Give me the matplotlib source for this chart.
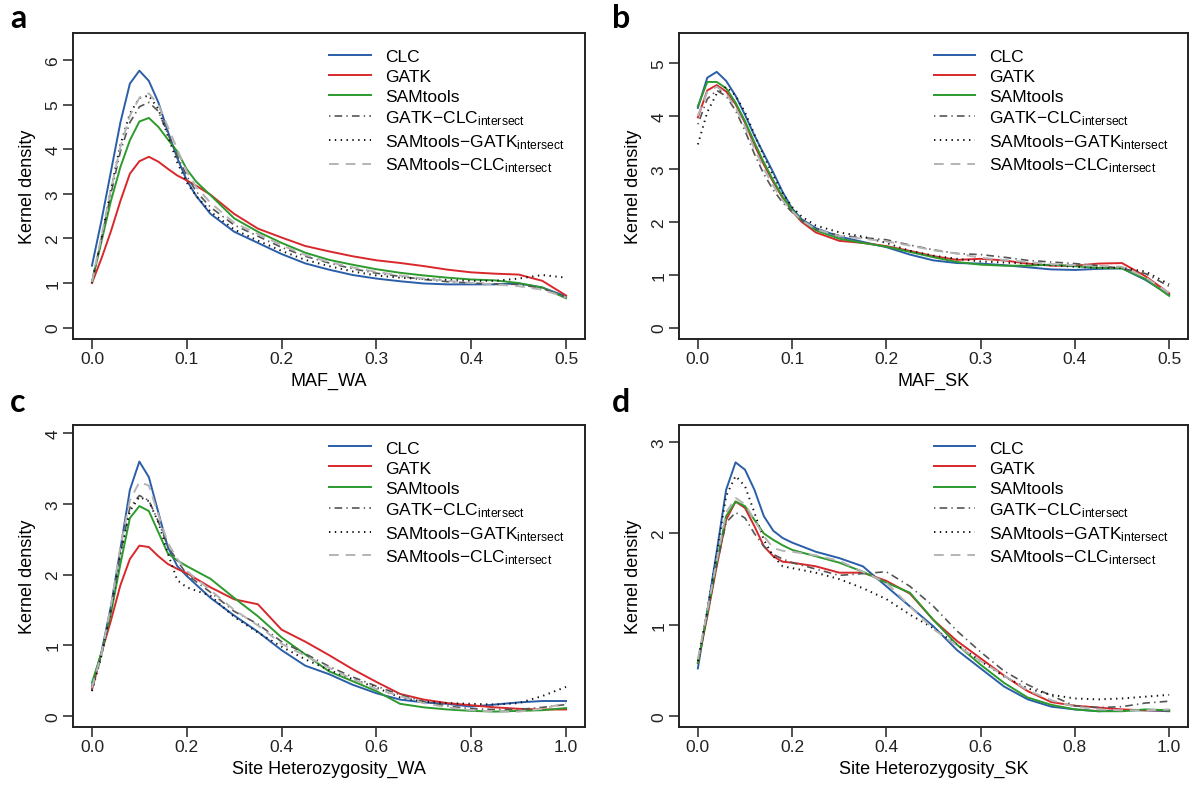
import matplotlib
matplotlib.use('Agg')
import matplotlib.pyplot as plt

plt.rcParams['font.family'] = ['Liberation Sans', 'DejaVu Sans']
plt.rcParams['mathtext.fontset'] = 'custom'
plt.rcParams['mathtext.rm'] = 'Liberation Sans'
plt.rcParams['lines.scale_dashes'] = False

# ---------------- data ----------------
series_names = ['CLC', 'GATK', 'SAMtools', 'GATK-CLC', 'SAMtools-GATK', 'SAMtools-CLC']
legend_labels = ['CLC', 'GATK', 'SAMtools',
                 r'$\mathregular{GATK{-}CLC_{intersect}}$',
                 r'$\mathregular{SAMtools{-}GATK_{intersect}}$',
                 r'$\mathregular{SAMtools{-}CLC_{intersect}}$']

# Panel a : MAF_WA
x_a = [0, 0.01, 0.02, 0.03, 0.04, 0.05, 0.06, 0.07, 0.08, 0.09, 0.10, 0.11, 0.125, 0.15,
       0.175, 0.2, 0.225, 0.25, 0.275, 0.3, 0.325, 0.35, 0.375, 0.4, 0.425, 0.45, 0.475, 0.5]
a_clc = [1.39, 2.4, 3.5, 4.6, 5.47, 5.76, 5.53, 5.05, 4.4, 3.8, 3.3, 2.95, 2.55, 2.15,
         1.9, 1.65, 1.44, 1.30, 1.18, 1.10, 1.04, 0.99, 0.97, 0.97, 0.97, 0.99, 0.90, 0.70]
a_gatk = [1.0, 1.55, 2.16, 2.84, 3.45, 3.73, 3.83, 3.72, 3.56, 3.41, 3.3, 3.18, 2.98, 2.55,
          2.22, 2.02, 1.83, 1.71, 1.60, 1.51, 1.45, 1.38, 1.30, 1.24, 1.21, 1.19, 1.05, 0.72]
a_sam = [1.02, 1.93, 2.84, 3.6, 4.2, 4.62, 4.70, 4.5, 4.22, 3.95, 3.55, 3.27, 2.97, 2.45,
         2.15, 1.90, 1.68, 1.52, 1.41, 1.31, 1.23, 1.17, 1.12, 1.08, 1.06, 1.0, 0.9, 0.66]
a_gc = [1.05, 2.0, 3.0, 3.95, 4.6, 4.95, 5.05, 4.85, 4.35, 3.85, 3.4, 3.05, 2.7, 2.3,
        2.05, 1.8, 1.6, 1.45, 1.32, 1.22, 1.15, 1.08, 1.03, 1.0, 0.98, 0.97, 0.88, 0.68]
a_sg = [1.0, 2.0, 3.1, 4.1, 4.8, 5.15, 5.2, 4.9, 4.3, 3.7, 3.25, 2.95, 2.6, 2.2,
        1.95, 1.72, 1.52, 1.38, 1.26, 1.17, 1.12, 1.09, 1.07, 1.05, 1.05, 1.1, 1.18, 1.12]
a_sc = [1.02, 2.05, 3.1, 4.05, 4.75, 5.15, 5.25, 5.0, 4.5, 4.0, 3.5, 3.15, 2.8, 2.35,
        2.1, 1.85, 1.63, 1.47, 1.35, 1.25, 1.17, 1.10, 1.05, 1.0, 0.97, 0.93, 0.85, 0.68]

# Panel b : MAF_SK
x_b = [0, 0.01, 0.02, 0.03, 0.04, 0.05, 0.06, 0.07, 0.08, 0.09, 0.10, 0.11, 0.125, 0.15,
       0.175, 0.2, 0.225, 0.25, 0.275, 0.3, 0.325, 0.35, 0.375, 0.4, 0.425, 0.45, 0.475, 0.5]
b_clc = [4.15, 4.72, 4.83, 4.66, 4.38, 4.02, 3.63, 3.28, 2.93, 2.56, 2.25, 2.05, 1.88, 1.72,
         1.62, 1.52, 1.38, 1.27, 1.22, 1.21, 1.18, 1.14, 1.10, 1.09, 1.11, 1.12, 0.90, 0.62]
b_gatk = [3.97, 4.48, 4.58, 4.46, 4.22, 3.87, 3.45, 3.08, 2.75, 2.45, 2.2, 2.0, 1.80, 1.64,
          1.60, 1.54, 1.45, 1.35, 1.28, 1.30, 1.27, 1.21, 1.17, 1.17, 1.21, 1.22, 0.97, 0.65]
b_sam = [4.18, 4.64, 4.64, 4.52, 4.25, 3.9, 3.5, 3.12, 2.78, 2.47, 2.22, 2.03, 1.84, 1.68,
         1.60, 1.53, 1.43, 1.33, 1.24, 1.19, 1.17, 1.17, 1.19, 1.16, 1.13, 1.12, 0.92, 0.60]
b_gc = [3.84, 4.32, 4.48, 4.37, 4.1, 3.72, 3.28, 2.9, 2.6, 2.36, 2.18, 2.03, 1.86, 1.74,
        1.70, 1.66, 1.56, 1.47, 1.40, 1.38, 1.33, 1.27, 1.24, 1.21, 1.17, 1.12, 1.02, 0.78]
b_sg = [3.46, 4.07, 4.42, 4.55, 4.38, 4.07, 3.65, 3.24, 2.87, 2.54, 2.28, 2.1, 1.93, 1.80,
        1.72, 1.60, 1.45, 1.36, 1.30, 1.25, 1.23, 1.21, 1.18, 1.15, 1.13, 1.13, 1.06, 0.82]
b_sc = [4.0, 4.45, 4.55, 4.42, 4.15, 3.8, 3.38, 3.0, 2.68, 2.4, 2.2, 2.03, 1.86, 1.73,
        1.68, 1.63, 1.55, 1.46, 1.40, 1.32, 1.28, 1.24, 1.20, 1.18, 1.17, 1.15, 0.95, 0.65]

# Panel c : Site Heterozygosity_WA
x_c = [0, 0.02, 0.04, 0.06, 0.08, 0.10, 0.12, 0.14, 0.16, 0.18, 0.2, 0.25, 0.3, 0.35,
       0.4, 0.45, 0.5, 0.55, 0.6, 0.65, 0.7, 0.75, 0.8, 0.85, 0.9, 0.95, 1.0]
c_clc = [0.42, 0.9, 1.55, 2.36, 3.2, 3.6, 3.38, 2.88, 2.39, 2.12, 1.98, 1.67, 1.42, 1.19,
         0.93, 0.71, 0.59, 0.44, 0.32, 0.23, 0.19, 0.17, 0.13, 0.16, 0.19, 0.21, 0.21]
c_gatk = [0.37, 0.89, 1.35, 1.85, 2.22, 2.41, 2.39, 2.26, 2.15, 2.08, 2.02, 1.82, 1.65, 1.58,
          1.22, 1.05, 0.86, 0.66, 0.48, 0.31, 0.23, 0.18, 0.15, 0.12, 0.10, 0.09, 0.09]
c_sam = [0.47, 0.89, 1.45, 2.15, 2.8, 2.97, 2.9, 2.6, 2.3, 2.2, 2.12, 1.94, 1.67, 1.41,
         1.11, 0.87, 0.63, 0.49, 0.35, 0.17, 0.12, 0.09, 0.07, 0.06, 0.07, 0.08, 0.11]
c_gc = [0.38, 0.85, 1.5, 2.3, 2.95, 3.12, 3.05, 2.75, 2.4, 2.2, 2.0, 1.75, 1.48, 1.3,
        1.05, 0.88, 0.70, 0.55, 0.42, 0.30, 0.20, 0.14, 0.10, 0.09, 0.09, 0.12, 0.16]
c_sg = [0.35, 0.85, 1.5, 2.3, 2.9, 3.1, 3.04, 2.74, 2.3, 1.92, 1.82, 1.70, 1.40, 1.18,
        0.98, 0.80, 0.65, 0.52, 0.40, 0.26, 0.20, 0.18, 0.17, 0.16, 0.18, 0.28, 0.41]
c_sc = [0.40, 0.88, 1.55, 2.4, 3.05, 3.31, 3.26, 2.85, 2.45, 2.22, 2.05, 1.78, 1.5, 1.28,
        1.02, 0.85, 0.68, 0.52, 0.38, 0.28, 0.18, 0.12, 0.08, 0.06, 0.06, 0.10, 0.18]

# Panel d : Site Heterozygosity_SK
x_d = [0, 0.02, 0.04, 0.06, 0.08, 0.10, 0.12, 0.14, 0.16, 0.18, 0.2, 0.25, 0.3, 0.35,
       0.4, 0.45, 0.5, 0.55, 0.6, 0.65, 0.7, 0.75, 0.8, 0.85, 0.9, 0.95, 1.0]
d_clc = [0.52, 1.15, 1.8, 2.48, 2.78, 2.70, 2.48, 2.19, 2.03, 1.95, 1.90, 1.80, 1.73, 1.64,
         1.42, 1.20, 0.98, 0.72, 0.52, 0.32, 0.18, 0.10, 0.07, 0.05, 0.06, 0.06, 0.05]
d_gatk = [0.58, 1.09, 1.64, 2.15, 2.35, 2.28, 2.08, 1.86, 1.75, 1.69, 1.68, 1.64, 1.57, 1.57,
          1.48, 1.34, 1.05, 0.82, 0.63, 0.44, 0.27, 0.15, 0.11, 0.09, 0.07, 0.06, 0.06]
d_sam = [0.58, 1.12, 1.68, 2.19, 2.35, 2.30, 2.15, 2.0, 1.93, 1.87, 1.82, 1.75, 1.68, 1.58,
         1.46, 1.35, 1.05, 0.78, 0.56, 0.36, 0.20, 0.12, 0.07, 0.05, 0.05, 0.07, 0.06]
d_gc = [0.6, 1.12, 1.65, 2.12, 2.23, 2.17, 2.0, 1.86, 1.77, 1.72, 1.68, 1.61, 1.54, 1.56,
        1.58, 1.42, 1.20, 0.93, 0.70, 0.49, 0.34, 0.22, 0.11, 0.09, 0.10, 0.14, 0.16]
d_sg = [0.6, 1.15, 1.78, 2.41, 2.63, 2.52, 2.23, 1.93, 1.75, 1.64, 1.62, 1.57, 1.50, 1.40,
        1.28, 1.11, 0.96, 0.78, 0.60, 0.43, 0.30, 0.23, 0.19, 0.18, 0.19, 0.21, 0.23]
d_sc = [0.62, 1.15, 1.7, 2.23, 2.39, 2.32, 2.15, 1.97, 1.84, 1.81, 1.80, 1.76, 1.70, 1.58,
        1.46, 1.20, 0.95, 0.77, 0.60, 0.44, 0.28, 0.17, 0.10, 0.07, 0.06, 0.06, 0.07]

x_ticks_maf = [0.0, 0.1, 0.2, 0.3, 0.4, 0.5]
x_ticks_het = [0.0, 0.2, 0.4, 0.6, 0.8, 1.0]

# ---------------- styles ----------------
colors = ['#2a5ea8', '#d8282c', '#2c9a2c', '#555555', '#111111', '#b4b4b4']
dash_styles = ['-', '-', '-', (0, (1, 3, 5.5, 3)), (0, (1, 3.2)), (0, (7, 5))]
widths = [1.4, 1.4, 1.4, 1.2, 1.4, 1.4]

panels = [
    dict(letter='a', x=x_a, ys=[a_clc, a_gatk, a_sam, a_gc, a_sg, a_sc], xlabel='MAF_WA',
         xlim=(-0.02, 0.52), ylim=(-0.254, 6.604), xticks=x_ticks_maf, yticks=range(0, 7),
         rect=[73, 34, 585, 340], letter_xy=(10, 28)),
    dict(letter='b', x=x_b, ys=[b_clc, b_gatk, b_sam, b_gc, b_sg, b_sc], xlabel='MAF_SK',
         xlim=(-0.02, 0.52), ylim=(-0.214, 5.564), xticks=x_ticks_maf, yticks=range(0, 6),
         rect=[679, 34, 1188, 340], letter_xy=(612, 28)),
    dict(letter='c', x=x_c, ys=[c_clc, c_gatk, c_sam, c_gc, c_sg, c_sc],
         xlabel='Site Heterozygosity_WA', xlim=(-0.04, 1.04), ylim=(-0.158, 4.118),
         xticks=x_ticks_het, yticks=range(0, 5), rect=[73, 426, 585, 728],
         letter_xy=(10, 412)),
    dict(letter='d', x=x_d, ys=[d_clc, d_gatk, d_sam, d_gc, d_sg, d_sc],
         xlabel='Site Heterozygosity_SK', xlim=(-0.04, 1.04), ylim=(-0.123, 3.19),
         xticks=x_ticks_het, yticks=range(0, 4), rect=[679, 426, 1188, 728],
         letter_xy=(612, 412)),
]

W, H = 1200, 803
fig = plt.figure(figsize=(W / 100, H / 100), dpi=100)

for p in panels:
    l, t, r, b = p['rect']
    ax = fig.add_axes([l / W, 1 - b / H, (r - l) / W, (b - t) / H])
    for i, y in enumerate(p['ys']):
        ax.plot(p['x'], y, color=colors[i], linestyle=dash_styles[i], lw=widths[i],
                label=legend_labels[i])
    ax.set_xlim(*p['xlim'])
    ax.set_ylim(*p['ylim'])
    ax.set_xticks(p['xticks'])
    ax.set_xticklabels([f'{v:.1f}' for v in p['xticks']])
    ax.set_yticks(list(p['yticks']))
    ax.set_yticklabels([str(v) for v in p['yticks']], rotation=90, va='center')
    ax.tick_params(direction='out', length=7, width=1.1, labelsize=12.5, pad=2,
                   colors='#222222')
    for s in ax.spines.values():
        s.set_linewidth(1.4)
        s.set_color('#222222')
    ax.set_xlabel(p['xlabel'], fontsize=13, labelpad=4)
    ax.set_ylabel('Kernel density', fontsize=13, labelpad=7)
    ax.legend(loc='upper left', bbox_to_anchor=(0.487, 0.972), frameon=False,
              fontsize=12.5, handlelength=2.4, handletextpad=0.8, labelspacing=0.28,
              borderaxespad=0)
    lx, ly = p['letter_xy']
    fig.text(lx / W, 1 - ly / H, p['letter'], fontsize=23,
             fontweight='bold', family='Lato', va='baseline', ha='left')

fig.savefig('out.png', dpi=100)
